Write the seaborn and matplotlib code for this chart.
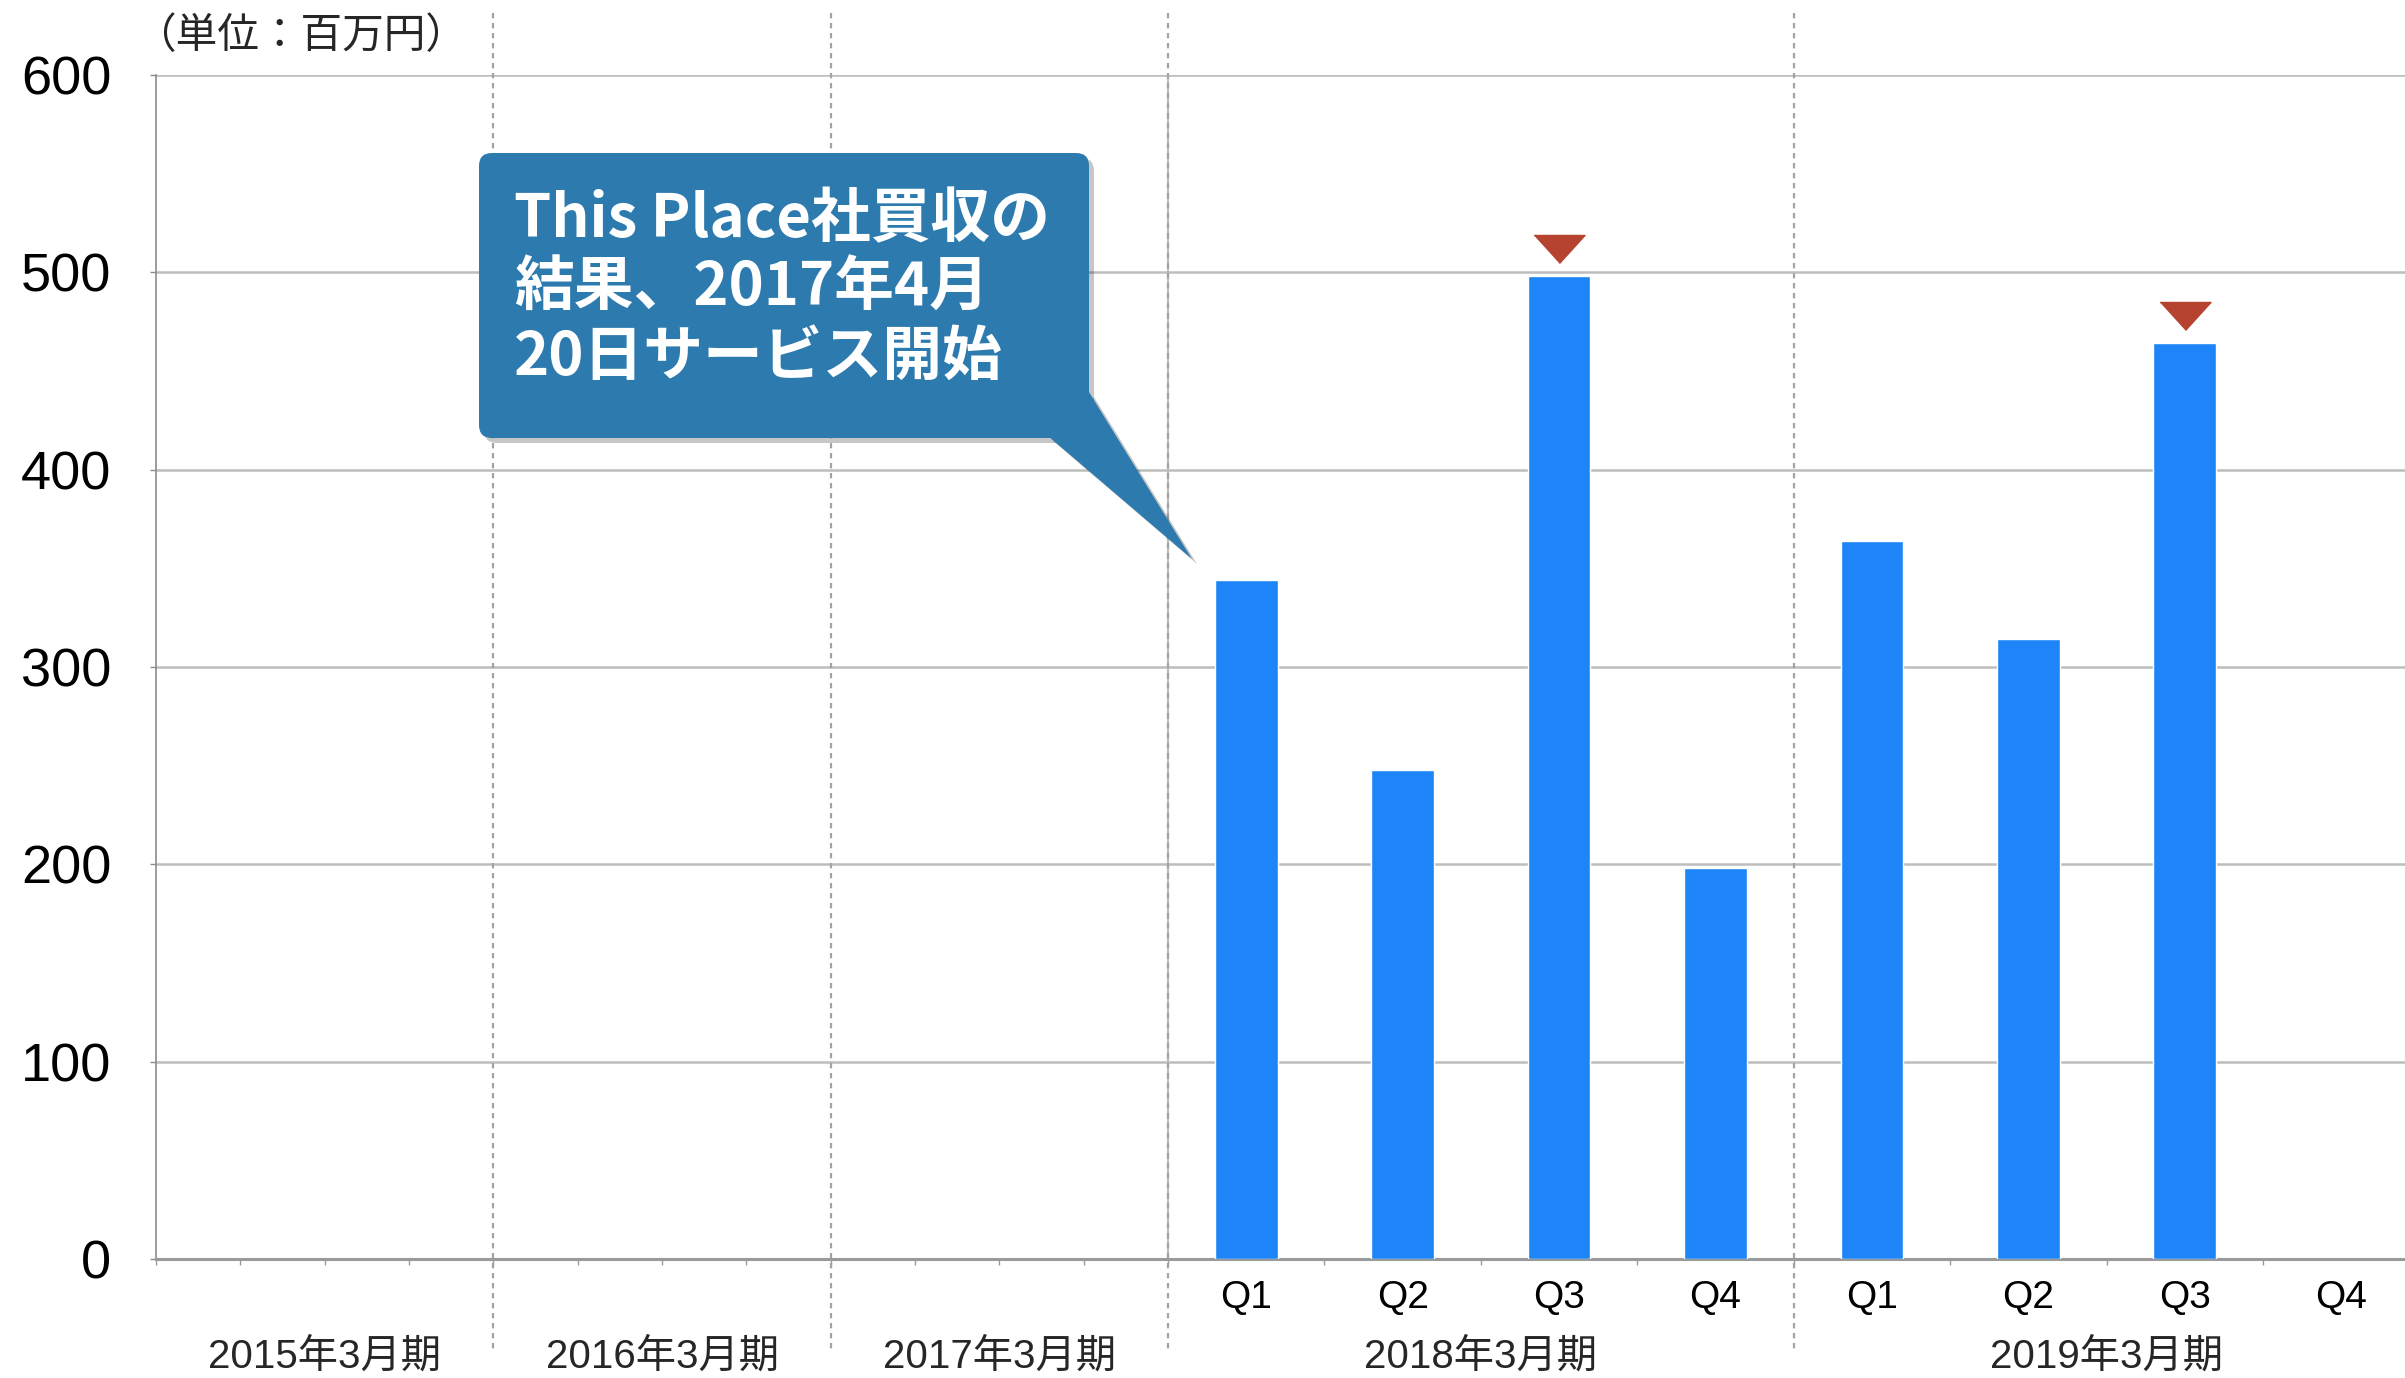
import numpy as np
import pandas as pd
import seaborn as sns
import matplotlib.pyplot as plt
from matplotlib.patches import FancyBboxPatch, Polygon
from matplotlib.transforms import Affine2D, blended_transform_factory

# Data (millions of yen)
fiscal_years = ["2015年3月期", "2016年3月期", "2017年3月期", "2018年3月期", "2019年3月期"]
quarters = ["Q1", "Q2", "Q3", "Q4"]
sales_fy2018 = [344, 248, 498, 198]
sales_fy2019 = [364, 314, 464, np.nan]
quarterly_sales = {"2018年3月期": sales_fy2018, "2019年3月期": sales_fy2019}
peak_quarter = "Q3"
y_ticks = [0, 100, 200, 300, 400, 500, 600]
unit_label = "（単位：百万円）"
callout_lines = ["This Place社買収の", "結果、2017年4月", "20日サービス開始"]

W, H = 2405, 1378
BAR_COLOR = "#1e85f8"
MARK_COLOR = "#b5432f"
CALLOUT_COLOR = "#2d7bae"
GRID_COLOR = "#bdbdbd"
SEP_COLOR = "#a3a3a3"
EARLY_SLOT = 1.0     # quarter slot width for years without data
LATE_SLOT = 1.8545   # quarter slot width for years with data
MARK_GAP = 14        # triangle centre above bar top, in data units

sns.set_theme(style="white")
plt.rcParams["font.family"] = ["Liberation Sans", "Noto Sans CJK JP"]

# slot layout along x
year_edges = [0.0]
for fy in fiscal_years:
    w = LATE_SLOT if fy in quarterly_sales else EARLY_SLOT
    year_edges.append(year_edges[-1] + 4 * w)

rows = []
q_ticks, q_labels, minor_ticks = [], [], []
for i, fy in enumerate(fiscal_years):
    w = LATE_SLOT if fy in quarterly_sales else EARLY_SLOT
    for k in range(4):
        minor_ticks.append(year_edges[i] + k * w)
    if fy in quarterly_sales:
        for k, q in enumerate(quarters):
            xc = year_edges[i] + (k + 0.5) * w
            q_ticks.append(xc)
            q_labels.append(q)
            rows.append({"year": fy, "quarter": q, "x": xc, "sales": quarterly_sales[fy][k]})
df = pd.DataFrame(rows).dropna()

fig = plt.figure(figsize=(W / 100, H / 100), dpi=100)
ax = fig.add_axes([156 / W, 1 - 1259 / H, 1 - 156 / W, (1259 - 75) / H])

sns.barplot(data=df, x="x", y="sales", native_scale=True, width=0.4, color=BAR_COLOR,
            saturation=1, errorbar=None, ax=ax, zorder=3)

# peak markers
peaks = df[df["quarter"] == peak_quarter]
tri = [(-1, 0.55), (1, 0.55), (0, -0.55)]
ax.plot(peaks["x"], peaks["sales"] + MARK_GAP, ls="none", marker=tri, markersize=36.7,
        color=MARK_COLOR, zorder=4, clip_on=False)

ax.set_xlim(0, year_edges[-1] - 0.17)
ax.set_ylim(0, 600)
ax.set_yticks(y_ticks)
ax.set_xlabel("")
ax.set_ylabel("")
ax.yaxis.grid(True, color=GRID_COLOR, lw=1.8)
ax.xaxis.grid(False)
ax.set_axisbelow(True)
for s in ["top", "right"]:
    ax.spines[s].set_visible(False)
ax.spines["left"].set_color("#8c8c8c")
ax.spines["left"].set_linewidth(1.2)
ax.spines["bottom"].set_color("#9a9a9a")
ax.spines["bottom"].set_linewidth(2.2)
ax.tick_params(axis="y", left=True, length=4.3, width=1, color="#8c8c8c", pad=28,
               labelsize=39, labelcolor="black")
ax.set_xticks(q_ticks)
ax.set_xticklabels(q_labels)
ax.set_xticks(minor_ticks, minor=True)
ax.tick_params(axis="x", which="major", bottom=True, length=0, pad=15, labelsize=28,
               labelcolor="black")
ax.tick_params(axis="x", which="minor", bottom=True, length=4.3, width=1, color="#9a9a9a")

# year labels and separators
xfig = blended_transform_factory(ax.transData, fig.transFigure)
for i, fy in enumerate(fiscal_years):
    xc = (year_edges[i] + year_edges[i + 1]) / 2
    ax.text(xc, 1 - 1357 / H, fy, transform=xfig, ha="center", va="center", fontsize=29)
for e in year_edges[1:-1]:
    ax.plot([e, e], [1 - 13 / H, 1 - 1350 / H], transform=xfig, clip_on=False,
            color=SEP_COLOR, lw=1.6, ls=(0, (2.4, 2.1)), zorder=2)
ax.axvline(year_edges[3], color=GRID_COLOR, lw=1.6, zorder=1)

# unit label
to_px = Affine2D().scale(1 / W, -1 / H).translate(0, 1) + fig.transFigure
fig.text(134, 37, unit_label, transform=to_px, fontsize=30, va="center", ha="left",
         family=["Noto Sans CJK JP"])

# callout
for dx, alpha, col in [(5, 0.22, "black"), (0, 1, CALLOUT_COLOR)]:
    box = FancyBboxPatch((479 + dx, 153 + dx), 610, 285,
                         boxstyle="round,pad=0,rounding_size=13", transform=to_px,
                         fc=col, ec="none", alpha=alpha, zorder=10)
    tail = Polygon([(1048 + dx, 436 + dx), (1089 + dx, 392 + dx), (1192 + dx, 559 + dx)],
                   closed=True, transform=to_px, fc=col, ec="none", alpha=alpha, zorder=10)
    fig.patches.extend([box, tail])
for j, line in enumerate(callout_lines):
    fig.text(514, 220 + j * 69, line, transform=to_px, fontsize=43, fontweight="bold",
             color="white", va="center", ha="left", family=["Noto Sans CJK JP"], zorder=11)

fig.savefig("out.png", dpi=100)
